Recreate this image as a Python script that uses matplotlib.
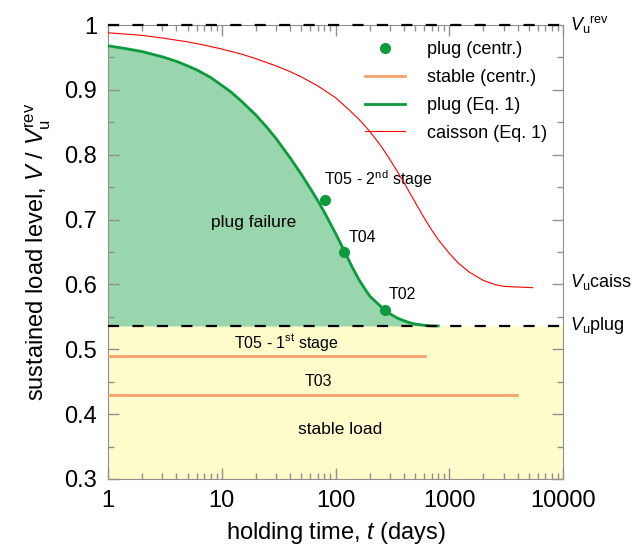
import numpy as np
import matplotlib
matplotlib.use('Agg')
import matplotlib.pyplot as plt
from matplotlib.ticker import FuncFormatter, MultipleLocator, LogLocator, NullFormatter

plt.rcParams['font.family'] = ['Liberation Sans', 'DejaVu Sans']
plt.rcParams['mathtext.fontset'] = 'custom'
plt.rcParams['mathtext.rm'] = 'Liberation Sans'
plt.rcParams['mathtext.it'] = 'Liberation Sans:italic'

# plug curve (Eq. 1)
t_plug = [1, 1.5, 2, 3, 4, 5, 6, 8, 10, 12, 15, 20, 25, 30, 40, 50, 60, 70, 80, 90, 100,
          120, 140, 160, 180, 200, 250, 300, 350, 400, 450, 500, 600, 700, 800]
v_plug = [0.968, 0.963, 0.959, 0.951, 0.944, 0.937, 0.931, 0.919, 0.907, 0.897, 0.882, 0.861,
          0.842, 0.825, 0.795, 0.770, 0.748, 0.729, 0.711, 0.694, 0.679,
          0.651, 0.627, 0.608, 0.594, 0.582, 0.566, 0.555, 0.548, 0.544, 0.541, 0.539,
          0.537, 0.536, 0.536]

# caisson curve (Eq. 1)
t_caiss = [1, 2, 3, 5, 7, 10, 15, 20, 30, 40, 50, 70, 100, 130, 160, 200, 250, 300, 350, 400,
           500, 600, 700, 800, 1000, 1200, 1500, 2000, 2500, 3000, 4000, 5400]
v_caiss = [0.988, 0.984, 0.980, 0.974, 0.969, 0.963, 0.955, 0.948, 0.937, 0.928, 0.920, 0.906,
           0.888, 0.870, 0.855, 0.836, 0.814, 0.793, 0.774, 0.757,
           0.727, 0.703, 0.684, 0.669, 0.648, 0.633, 0.619, 0.606, 0.600, 0.597, 0.596, 0.595]

# centrifuge tests
pt_names = ['T05 - 2$^{\\mathrm{nd}}$ stage', 'T04', 'T02']
pt_t = [81, 118, 272]
pt_v = [0.730, 0.650, 0.561]

stable_names = ['T05 - 1$^{\\mathrm{st}}$ stage', 'T03']
stable_tend = [610, 3950]
stable_v = [0.49, 0.43]

v_rev = 1.0
v_plug_lim = 0.536

green = '#0b9a3c'
orange = '#f9a070'

fig = plt.figure(figsize=(6.39, 5.6), dpi=100)
ax = fig.add_axes([108/639, 81/560, 455/639, 454/560])
ax.set_xscale('log')
ax.set_xlim(1, 10000)
ax.set_ylim(0.3, 1.0)

# background regions
ax.axhspan(0.3, v_plug_lim, color='#fefccb', zorder=0, lw=0)
ax.fill_between(t_plug, v_plug, v_plug_lim, color='#99d5ad', zorder=1, lw=0)

ax.plot(t_plug, v_plug, color=green, lw=2, zorder=4, label='plug (Eq. 1)')
ax.plot(t_caiss, v_caiss, color='red', lw=0.8, zorder=4, label='caisson (Eq. 1)')

for i, (te, v) in enumerate(zip(stable_tend, stable_v)):
    ax.plot([1, te], [v, v], color=orange, lw=2, zorder=3,
            label='stable (centr.)' if i == 0 else None)

ax.plot(pt_t, pt_v, 'o', color=green, ms=7, zorder=5, label='plug (centr.)', clip_on=False)

ax.axhline(v_rev, color='black', ls=(0, (5, 6)), lw=1.6, zorder=6, clip_on=False)
ax.axhline(v_plug_lim, color='black', ls=(0, (5, 6)), lw=1.6, zorder=6)

# annotations
ax.text(pt_t[0] * 0.97, 0.762, pt_names[0], fontsize=11.5, ha='left', va='center')
ax.text(pt_t[1] * 1.1, 0.673, pt_names[1], fontsize=11.5, ha='left', va='center')
ax.text(pt_t[2] * 1.07, 0.585, pt_names[2], fontsize=11.5, ha='left', va='center')
ax.text(37, 0.511, stable_names[0], fontsize=11.5, ha='center', va='center')
ax.text(70, 0.450, stable_names[1], fontsize=11.5, ha='center', va='center')
ax.text(19, 0.696, 'plug failure', fontsize=12.5, ha='center', va='center')
ax.text(110, 0.376, 'stable load', fontsize=12.5, ha='center', va='center')

# right side labels
ax.text(1.015, 1.0, r'$V_\mathrm{u}$$^\mathrm{rev}$', transform=ax.get_yaxis_transform(),
        fontsize=13, ha='left', va='center')
ax.text(1.015, 0.603, r'$V_\mathrm{u}$caiss', transform=ax.get_yaxis_transform(),
        fontsize=13, ha='left', va='center')
ax.text(1.015, 0.537, r'$V_\mathrm{u}$plug', transform=ax.get_yaxis_transform(),
        fontsize=13, ha='left', va='center')

# legend order
h, l = ax.get_legend_handles_labels()
order = ['plug (centr.)', 'stable (centr.)', 'plug (Eq. 1)', 'caisson (Eq. 1)']
hh = [h[l.index(o)] for o in order]
ax.legend(hh, order, loc='upper right', bbox_to_anchor=(1.0, 1.0), frameon=False,
          fontsize=13, handlelength=2.2, labelspacing=0.6, handletextpad=1.2)

# axes styling
ax.set_xticks([1, 10, 100, 1000, 10000])
ax.xaxis.set_major_formatter(FuncFormatter(lambda x, p: '%d' % x))
ax.xaxis.set_minor_locator(LogLocator(base=10, subs=np.arange(2, 10)))
ax.xaxis.set_minor_formatter(NullFormatter())
ax.yaxis.set_major_locator(MultipleLocator(0.1))
ax.yaxis.set_minor_locator(MultipleLocator(0.05))
ax.yaxis.set_major_formatter(FuncFormatter(lambda y, p: '%g' % round(y, 2)))

ax.tick_params(which='both', direction='in', top=True, right=True, color='#909090', labelsize=17)
ax.tick_params(which='major', length=8, width=1, pad=8)
ax.tick_params(which='minor', length=4, width=1)
for s in ax.spines.values():
    s.set_color('#909090')

ax.set_xlabel('holding time, $t$ (days)', fontsize=17, labelpad=6)
ax.set_ylabel('sustained load level, $V$ / $V_\\mathrm{u}^\\mathrm{rev}$', fontsize=17, labelpad=8)

fig.savefig('out.png', dpi=100)
